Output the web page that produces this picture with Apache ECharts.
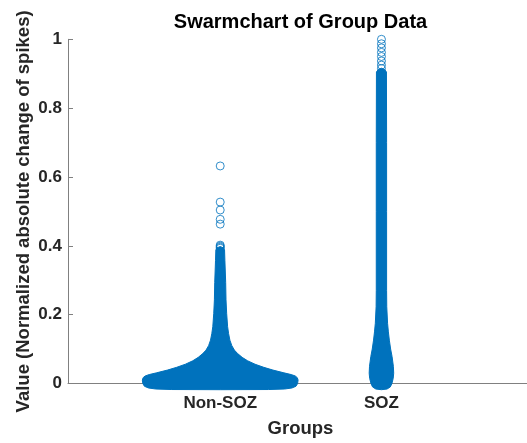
<!DOCTYPE html>
<html>
<head>
<meta charset="utf-8">
<script src="https://cdn.jsdelivr.net/npm/echarts@6/dist/echarts.min.js"></script>
<style>
  html, body { margin: 0; padding: 0; background: #fff; }
  #chart { width: 527px; height: 443px; }
</style>
</head>
<body>
<div id="chart"></div>
<script>
// Group names on the x axis (positions 1 and 2)
const groups = ['Non-SOZ', 'SOZ'];
const groupPos = [1, 2];

// Y tick values
const yTicks = [0, 0.2, 0.4, 0.6, 0.8, 1];

// Outline of the dense swarm for each group:
// value level and half-width of the swarm (in category units) at that level
const nonSozLevels = [-0.018, -0.0175, -0.016, -0.013, -0.008, 0.0, 0.01, 0.017, 0.022, 0.026, 0.031, 0.039, 0.047, 0.056, 0.066, 0.076, 0.087, 0.097, 0.11, 0.126, 0.145, 0.165, 0.204, 0.243, 0.293, 0.358, 0.388, 0.394, 0.398];
const nonSozHalfWidth = [0.0, 0.30, 0.40, 0.445, 0.47, 0.48, 0.483, 0.478, 0.465, 0.44, 0.395, 0.327, 0.27, 0.216, 0.17, 0.136, 0.108, 0.088, 0.072, 0.060, 0.052, 0.046, 0.040, 0.036, 0.034, 0.029, 0.027, 0.02, 0.0];

const sozLevels = [-0.018, -0.016, -0.01, 0.0, 0.015, 0.03, 0.05, 0.078, 0.1, 0.126, 0.15, 0.175, 0.223, 0.27, 0.5, 0.7, 0.905, 0.912, 0.916];
const sozHalfWidth = [0.0, 0.035, 0.055, 0.065, 0.073, 0.076, 0.074, 0.066, 0.057, 0.049, 0.043, 0.038, 0.033, 0.032, 0.032, 0.032, 0.031, 0.02, 0.0];

// Sparse observations drawn one by one
const nonSozPoints = [0.632, 0.527, 0.504, 0.477, 0.463, 0.402, 0.399, 0.396, 0.393];
const sozPoints = [1.0, 0.987, 0.975, 0.962, 0.95, 0.937, 0.925, 0.915];

const blue = '#0072BD';
const envelopes = [
  { levels: nonSozLevels, half: nonSozHalfWidth },
  { levels: sozLevels, half: sozHalfWidth }
];

const chart = echarts.init(document.getElementById('chart'), null, { renderer: 'canvas' });

const textColor = '#262626';
const axisGrey = '#808080';

chart.setOption({
  animation: false,
  backgroundColor: '#fff',
  title: {
    text: 'Swarmchart of Group Data',
    left: 300.5,
    textAlign: 'center',
    top: 12,
    padding: 0,
    textStyle: { fontFamily: 'Liberation Sans', fontWeight: 'bold', fontSize: 20, color: '#000' }
  },
  grid: {
    left: 68,
    top: 39.3,
    width: 465,
    height: 344.2,
    containLabel: false,
    outerBoundsMode: 'none'
  },
  xAxis: {
    type: 'value',
    min: 0.056,
    max: 2.94,
    name: 'Groups',
    nameLocation: 'middle',
    nameGap: 36,
    nameMoveOverlap: false,
    nameTextStyle: { fontFamily: 'Liberation Sans', fontWeight: 'bold', fontSize: 18.5, color: textColor },
    splitLine: { show: false },
    axisLine: { show: true, onZero: false, lineStyle: { color: axisGrey, width: 1 } },
    axisTick: { show: true, inside: true, length: 5, customValues: groupPos, lineStyle: { color: axisGrey } },
    axisLabel: {
      customValues: groupPos,
      margin: 11,
      fontFamily: 'Liberation Sans', fontWeight: 'bold', fontSize: 17, color: textColor,
      formatter: function (v) { return groups[groupPos.indexOf(Math.round(v))] || ''; }
    }
  },
  yAxis: {
    type: 'value',
    min: 0,
    max: 1,
    interval: 0.2,
    name: 'Value (Normalized absolute change of spikes)',
    nameLocation: 'middle',
    nameGap: 35,
    nameMoveOverlap: false,
    nameTextStyle: { fontFamily: 'Liberation Sans', fontWeight: 'bold', fontSize: 18.5, color: textColor },
    splitLine: { show: false },
    axisLine: { show: true, lineStyle: { color: axisGrey, width: 1 } },
    axisTick: { show: true, inside: true, length: 5, lineStyle: { color: axisGrey } },
    axisLabel: {
      customValues: yTicks,
      margin: 6,
      fontFamily: 'Liberation Sans', fontWeight: 'bold', fontSize: 17, color: textColor,
      formatter: function (v) { return String(+v.toFixed(1)); }
    }
  },
  series: [
    {
      // dense swarm body per group
      type: 'custom',
      clip: false,
      z: 3,
      data: groupPos.map(function (p) { return [p]; }),
      renderItem: function (params, api) {
        const env = envelopes[params.dataIndex];
        const cx = api.value(0);
        const pts = [];
        for (let i = 0; i < env.levels.length; i++) {
          pts.push(api.coord([cx + env.half[i], env.levels[i]]));
        }
        for (let i = env.levels.length - 1; i >= 0; i--) {
          pts.push(api.coord([cx - env.half[i], env.levels[i]]));
        }
        return {
          type: 'polygon',
          shape: { points: pts, smooth: 0 },
          style: { fill: blue, stroke: blue, lineWidth: 1 }
        };
      }
    },
    {
      type: 'scatter',
      z: 4,
      symbol: 'circle',
      symbolSize: 8,
      itemStyle: { color: 'rgba(0,0,0,0)', borderColor: blue, borderWidth: 1 },
      data: nonSozPoints.map(function (v) { return [groupPos[0], v]; })
    },
    {
      type: 'scatter',
      z: 4,
      symbol: 'circle',
      symbolSize: 8,
      itemStyle: { color: 'rgba(0,0,0,0)', borderColor: blue, borderWidth: 1 },
      data: sozPoints.map(function (v) { return [groupPos[1], v]; })
    }
  ]
});
</script>
</body>
</html>
